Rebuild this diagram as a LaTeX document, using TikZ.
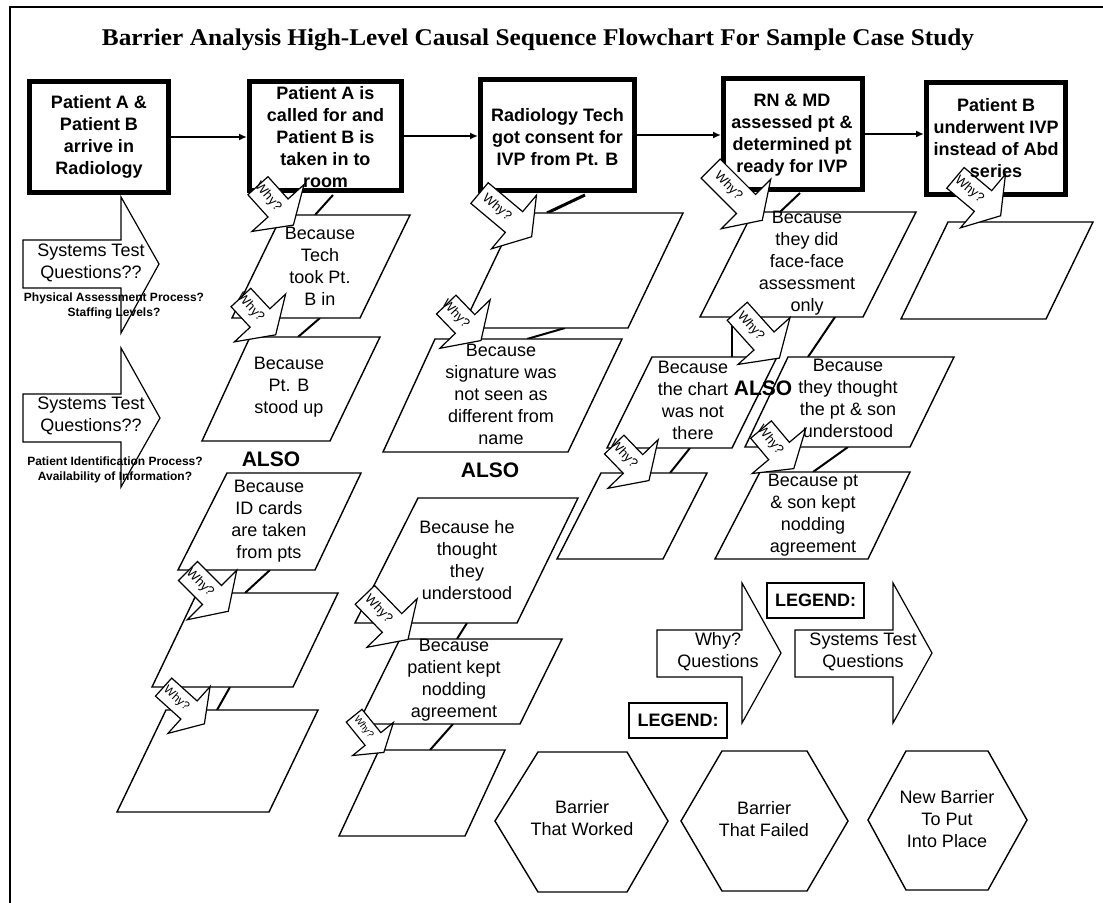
\documentclass[tikz,border=0pt]{standalone}
\usepackage{fontspec}
\setmainfont{Liberation Sans}
\newfontfamily\titlefont{Liberation Serif}
\usetikzlibrary{arrows.meta}

\tikzset{
  topbox/.style={draw, line width=2.5pt, fill=white, inner sep=0pt},
  btext/.style={font=\bfseries\fontsize{9}{11}\selectfont, align=center, inner sep=0pt},
  ptext/.style={font=\fontsize{9}{11}\selectfont, align=center, inner sep=0pt},
  alsotext/.style={font=\bfseries\fontsize{10.5}{12}\selectfont, inner sep=0pt},
  smallq/.style={font=\bfseries\fontsize{6}{7.5}\selectfont, align=center, inner sep=0pt},
  whyshape/.style={draw, fill=white, line width=0.6pt, line join=miter},
  whytext/.style={font=\fontsize{6.5}{7}\selectfont, inner sep=0pt},
  para/.style={draw, fill=white, line width=0.7pt},
  conn/.style={line width=1pt},
  flow/.style={line width=1pt, -{Latex[length=4pt,width=3.5pt]}},
  blockarr/.style={draw, fill=white, line width=0.6pt},
  hexa/.style={draw, fill=white, line width=0.7pt},
  legbox/.style={draw, line width=0.6pt, font=\bfseries\fontsize{9}{11}\selectfont, inner sep=0pt},
}

\newcommand{\whyarrow}[5]{%
  \begin{scope}[shift={#2}, rotate=#3, scale=#5]
    \draw[whyshape] (-#4,-13.5) -- (0,-13.5) -- (0,-35) -- (23,0) -- (0,35) -- (0,13.5) -- (-#4,13.5) -- cycle;
    \node[whytext, rotate=#3, scale=#5] (#1) at (-#4/2,0) {Why?};
  \end{scope}}

\begin{document}
\begin{tikzpicture}[x=0.5pt, y=-0.5pt]
\useasboundingbox (0,0) rectangle (1103,903);

% frame
\draw[line width=0.7pt] (10,903) -- (10,7) -- (1103,7);

% title
\node[inner sep=0pt] (title) at (538,40) {\resizebox{436pt}{\height}{\titlefont\bfseries\fontsize{12}{14}\selectfont Barrier Analysis High-Level Causal Sequence Flowchart For Sample Case Study}};

% connector end points
\coordinate (b2b) at (333,195);  \coordinate (p2at) at (315,215);
\coordinate (b3b) at (585,195);  \coordinate (p3at) at (547,213);
\coordinate (b4b) at (800,193);  \coordinate (p4at) at (780,212);
\coordinate (p2ab) at (320,318); \coordinate (p2bt) at (298,337);
\coordinate (p2cb) at (270,570); \coordinate (p2dt) at (245,593);
\coordinate (p2db) at (230,687); \coordinate (p2et) at (217,710);
\coordinate (p3ab) at (565,328); \coordinate (p3bt) at (527,339);
\coordinate (p3cb) at (467,623); \coordinate (p3dt) at (457,639);
\coordinate (p3db) at (453,724); \coordinate (p3et) at (430,750);
\coordinate (p4ab) at (835,317); \coordinate (p4dt) at (808,357);
\coordinate (p4ab2) at (732,317); \coordinate (p4bt) at (732,357);
\coordinate (p4bb) at (690,448); \coordinate (p4ct) at (670,473);
\coordinate (p4db) at (848,447); \coordinate (p4et) at (813,472);

\draw[line width=1.5pt] (b3b) -- (p3at);
\draw[conn] (b2b) -- (p2at);
\draw[conn] (b4b) -- (p4at);
\draw[conn] (p2ab) -- (p2bt);
\draw[conn] (p2cb) -- (p2dt);
\draw[conn] (p2db) -- (p2et);
\draw[conn] (p3ab) -- (p3bt);
\draw[conn] (p3cb) -- (p3dt);
\draw[conn] (p3db) -- (p3et);
\draw[conn] (p4ab) -- (p4dt);
\draw[conn] (p4ab2) -- (p4bt);
\draw[conn] (p4bb) -- (p4ct);
\draw[conn] (p4db) -- (p4et);

% top boxes
\node[topbox, minimum width=69.5pt, minimum height=55.5pt] (b1) at (99,137) {};
\node[topbox, minimum width=76pt, minimum height=54.5pt] (b2) at (325.5,136) {};
\node[topbox, minimum width=77pt, minimum height=55.5pt] (b3) at (557.5,135) {};
\node[topbox, minimum width=69.5pt, minimum height=55.5pt] (b4) at (793,134) {};
\node[topbox, minimum width=69.5pt, minimum height=56pt] (b5) at (996,138.5) {};

\draw[flow] (b1.east) -- (b1.east -| b2.west);
\draw[flow] (b2.east) -- (b2.east -| b3.west);
\draw[flow] (b3.east) -- (b3.east -| b4.west);
\draw[flow] (b4.east) -- (b4.east -| b5.west);

% big block arrows
\draw[blockarr] (23,240) -- (121,240) -- (121,197) -- (159,264) -- (121,333) -- (121,288) -- (23,288) -- cycle;
\draw[blockarr] (23,394) -- (121,394) -- (121,348) -- (160,418) -- (121,487) -- (121,442) -- (23,442) -- cycle;
\draw[blockarr] (657,630) -- (742,630) -- (742,583) -- (781,653) -- (742,723) -- (742,677) -- (657,677) -- cycle;
\draw[blockarr] (795,630) -- (893,630) -- (893,583) -- (932,653) -- (893,723) -- (893,677) -- (795,677) -- cycle;

% parallelograms
\draw[para] (282,215) -- (410,215) -- (360,318) -- (232,318) -- cycle;
\draw[para] (250,337) -- (380,337) -- (330,441) -- (202,441) -- cycle;
\draw[para] (227,473) -- (361,473) -- (315,570) -- (178,570) -- cycle;
\draw[para] (197,593) -- (338,593) -- (293,687) -- (152,687) -- cycle;
\draw[para] (166,710) -- (318,710) -- (269,812) -- (117,812) -- cycle;
\draw[para] (517,213) -- (683,213) -- (628,328) -- (462,328) -- cycle;
\draw[para] (435,339) -- (622,339) -- (568,452) -- (383,452) -- cycle;
\draw[para] (418,498) -- (578,498) -- (517,623) -- (355,623) -- cycle;
\draw[para] (400,639) -- (562,639) -- (520,724) -- (358,724) -- cycle;
\draw[para] (379,750) -- (505,750) -- (465,836) -- (339,836) -- cycle;
\draw[para] (753,212) -- (916,212) -- (863,317) -- (700,317) -- cycle;
\draw[para] (652,357) -- (777,357) -- (732,448) -- (607,448) -- cycle;
\draw[para] (601,473) -- (707,473) -- (663,559) -- (557,559) -- cycle;
\draw[para] (788,357) -- (954,357) -- (910,447) -- (745,447) -- cycle;
\draw[para] (760,472) -- (910,472) -- (868,559) -- (715,559) -- cycle;
\draw[para] (948,222) -- (1093,222) -- (1046,319) -- (901,319) -- cycle;

% hexagons
\draw[hexa] (495,821) -- (538,752) -- (627,752) -- (668,821) -- (627,892) -- (538,892) -- cycle;
\draw[hexa] (681,821) -- (722,751) -- (807,751) -- (848,821) -- (807,891) -- (722,891) -- cycle;
\draw[hexa] (868,820) -- (906,751) -- (988,751) -- (1027,820) -- (988,890) -- (906,890) -- cycle;

% legend boxes
\node[legbox, minimum width=48.5pt, minimum height=17.5pt] (leg1) at (815.5,600.5) {LEGEND:};
\node[legbox, minimum width=49pt, minimum height=17.5pt] (leg2) at (678,720.5) {LEGEND:};

% why arrows
\whyarrow{w1}{(278,208)}{-48}{30}{1}
\whyarrow{w2}{(514,222)}{-40}{45}{1}
\whyarrow{w3}{(746,204)}{-45}{50}{1}
\whyarrow{w4}{(260,318)}{-47}{28}{1}
\whyarrow{w5}{(212,595)}{-45}{34}{1}
\whyarrow{w6}{(189,710)}{-42}{38}{0.9}
\whyarrow{w7}{(465,324)}{-46}{27}{1}
\whyarrow{w8}{(392,623)}{-46}{39}{1}
\whyarrow{w9}{(373,739)}{-51}{40}{0.75}
\whyarrow{w10}{(764,341)}{-48}{40}{1}
\whyarrow{w11}{(633,464)}{-46}{27}{1}
\whyarrow{w12}{(779,451)}{-50}{28}{1}
\whyarrow{w13}{(983,201)}{-40}{36}{1}

% box texts
\node[btext] (t1) at (b1) {Patient A \&\\Patient B\\arrive in\\Radiology};
\node[btext] (t2) at (325.5,137.5) {Patient A is\\called for and\\Patient B is\\taken in to\\room};
\node[btext] (t3) at (557.5,137) {Radiology Tech\\got consent for\\IVP from Pt. B};
\node[btext] (t4) at (792,135) {RN \& MD\\assessed pt \&\\determined pt\\ready for IVP};
\node[btext] (t5) at (996,138) {Patient B\\underwent IVP\\instead of Abd\\series};

% parallelogram texts
\node[ptext] (q2a) at (320,266) {Because\\Tech\\took Pt.\\B in};
\node[ptext] (q2b) at (289,387) {Because\\Pt. B\\stood up};
\node[ptext] (q2c) at (269,521) {Because\\ID cards\\are taken\\from pts};
\node[ptext] (q3b) at (501,394) {Because\\signature was\\not seen as\\different from\\name};
\node[ptext] (q3c) at (467,560) {Because he\\thought\\they\\understood};
\node[ptext] (q3d) at (454,680) {Because\\patient kept\\nodding\\agreement};
\node[ptext] (q4a) at (807,263) {Because\\they did\\face-face\\assessment\\only};
\node[ptext] (q4b) at (693,400) {Because\\the chart\\was not\\there};
\node[ptext] (q4d) at (848,398) {Because\\they thought\\the pt \& son\\understood};
\node[ptext] (q4e) at (813,515) {Because pt\\\& son kept\\nodding\\agreement};

\node[alsotext] (also1) at (271,459) {ALSO};
\node[alsotext] (also2) at (490,470) {ALSO};
\node[alsotext] (also3) at (763,388) {ALSO};

% left column texts
\node[ptext] (s1) at (91,263) {Systems Test\\Questions??};
\node[smallq] (s1q) at (114,306) {Physical Assessment Process?\\Staffing Levels?};
\node[ptext] (s2) at (91,416) {Systems Test\\Questions??};
\node[smallq] (s2q) at (115,470) {Patient Identification Process?\\Availability of Information?};

% legend texts
\node[ptext] (la1) at (718,652) {Why?\\Questions};
\node[ptext] (la2) at (863,652) {Systems Test\\Questions};
\node[ptext] (h1) at (582,818) {Barrier\\That Worked};
\node[ptext] (h2) at (764,819) {Barrier\\That Failed};
\node[ptext] (h3) at (947,819) {New Barrier\\To Put\\Into Place};
\end{tikzpicture}
\end{document}
